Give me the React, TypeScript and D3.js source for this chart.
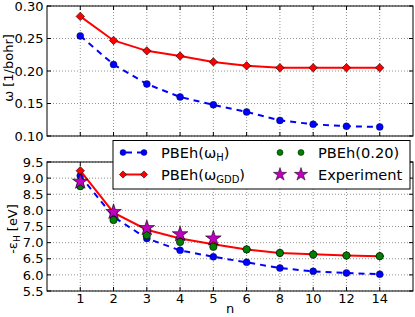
import React from "react";
import * as d3 from "d3";

const nLabels = ["1", "2", "3", "4", "5", "6", "8", "10", "12", "14"];
const omegaH = [0.254, 0.21, 0.18, 0.16, 0.148, 0.137, 0.124, 0.118, 0.115, 0.114];
const omegaGDD = [0.284, 0.247, 0.231, 0.223, 0.214, 0.208, 0.205, 0.205, 0.205, 0.205];
const epsH = [9.07, 7.8, 7.13, 6.76, 6.56, 6.39, 6.21, 6.11, 6.06, 6.02];
const epsGDD = [9.23, 7.93, 7.4, 7.13, 6.95, 6.79, 6.68, 6.64, 6.6, 6.58];
const eps020 = [8.75, 7.7, 7.23, 7.02, 6.87, 6.79, 6.68, 6.63, 6.6, 6.58];
const epsExp = [8.89, 7.95, 7.45, 7.26, 7.13];
const topTicks = [0.1, 0.15, 0.2, 0.25, 0.3];
const bottomTicks = [5.5, 6.0, 6.5, 7.0, 7.5, 8.0, 8.5, 9.0, 9.5];

const FONT = "DejaVu Sans";
const FS = 13;
const LFS = 14.6;
const L = 47, R = 413;
const TOP = { y0: 6, y1: 136 };
const BOT = { y0: 162, y1: 291 };

const x = d3.scalePoint<string>().domain(nLabels).range([L, R]).padding(1);
const yTop = d3.scaleLinear().domain([0.1, 0.3]).range([TOP.y1, TOP.y0]);
const yBot = d3.scaleLinear().domain([5.5, 9.5]).range([BOT.y1, BOT.y0]);

const diamond = (cx: number, cy: number, r: number) =>
  `M${cx},${cy - r}L${cx + r},${cy}L${cx},${cy + r}L${cx - r},${cy}Z`;
const starPath = d3.symbol().type(d3.symbolStar).size(75)();

function Panel({ y, ticks, y0, y1, digits }: { y: d3.ScaleLinear<number, number>; ticks: number[]; y0: number; y1: number; digits: number }) {
  return (
    <g>
      {nLabels.map((n) => (
        <line key={"gx" + n} x1={x(n)} x2={x(n)} y1={y0} y2={y1} stroke="#777" strokeWidth={0.8} strokeDasharray="1,2" />
      ))}
      {ticks.map((t) => (
        <line key={"gy" + t} x1={L} x2={R} y1={y(t)} y2={y(t)} stroke="#777" strokeWidth={0.8} strokeDasharray="1,2" />
      ))}
      {nLabels.map((n) => (
        <g key={"tx" + n}>
          <line x1={x(n)} x2={x(n)} y1={y1} y2={y1 - 4} stroke="#000" />
          <line x1={x(n)} x2={x(n)} y1={y0} y2={y0 + 4} stroke="#000" />
        </g>
      ))}
      {ticks.map((t) => (
        <g key={"ty" + t}>
          <line x1={L} x2={L + 4} y1={y(t)} y2={y(t)} stroke="#000" />
          <line x1={R} x2={R - 4} y1={y(t)} y2={y(t)} stroke="#000" />
          <text x={L - 3.5} y={y(t)} dy="0.36em" textAnchor="end" fontSize={FS} fontFamily={FONT}>
            {t.toFixed(digits)}
          </text>
        </g>
      ))}
      <rect x={L} y={y0} width={R - L} height={y1 - y0} fill="none" stroke="#000" strokeWidth={1} />
    </g>
  );
}

export default function App() {
  const lineTop = (vals: number[]) =>
    d3.line<number>().x((_, i) => x(nLabels[i])!).y((v) => yTop(v))(vals)!;
  const lineBot = (vals: number[]) =>
    d3.line<number>().x((_, i) => x(nLabels[i])!).y((v) => yBot(v))(vals)!;

  return (
    <svg width={415} height={317} style={{ position: "absolute", left: 0, top: 0 }} fontFamily={FONT}>
      <rect width={415} height={317} fill="#fff" />
      {/* Top panel */}
      <Panel y={yTop} ticks={topTicks} y0={TOP.y0} y1={TOP.y1} digits={2} />
      <path d={lineTop(omegaH)} fill="none" stroke="#0000ff" strokeWidth={2} strokeDasharray="6,5" />
      {omegaH.map((v, i) => (
        <circle key={"oh" + i} cx={x(nLabels[i])} cy={yTop(v)} r={3.5} fill="#0000ff" stroke="#000" strokeWidth={0.4} />
      ))}
      <path d={lineTop(omegaGDD)} fill="none" stroke="#ff0000" strokeWidth={2} />
      {omegaGDD.map((v, i) => (
        <path key={"og" + i} d={diamond(x(nLabels[i])!, yTop(v), 4.2)} fill="#ff0000" stroke="#000" strokeWidth={0.6} />
      ))}
      <text transform={`translate(12.5,68) rotate(-90)`} textAnchor="middle" fontSize={FS}>
        ω [1/bohr]
      </text>

      {/* Bottom panel */}
      <Panel y={yBot} ticks={bottomTicks} y0={BOT.y0} y1={BOT.y1} digits={1} />
      <path d={lineBot(epsH)} fill="none" stroke="#0000ff" strokeWidth={2} strokeDasharray="6,5" />
      {epsH.map((v, i) => (
        <circle key={"eh" + i} cx={x(nLabels[i])} cy={yBot(v)} r={3.5} fill="#0000ff" stroke="#000" strokeWidth={0.4} />
      ))}
      <path d={lineBot(epsGDD)} fill="none" stroke="#ff0000" strokeWidth={2} />
      {epsGDD.map((v, i) => (
        <path key={"eg" + i} d={diamond(x(nLabels[i])!, yBot(v), 4.2)} fill="#ff0000" stroke="#000" strokeWidth={0.6} />
      ))}
      {eps020.map((v, i) => (
        <circle key={"e2" + i} cx={x(nLabels[i])} cy={yBot(v)} r={3.7} fill="#007f00" stroke="#000" strokeWidth={0.6} />
      ))}
      {epsExp.map((v, i) => (
        <path key={"ex" + i} d={starPath} transform={`translate(${x(nLabels[i])},${yBot(v)})`} fill="#bf00bf" stroke="#000" strokeWidth={0.6} />
      ))}
      {nLabels.map((n) => (
        <text key={"xl" + n} x={x(n)} y={303} textAnchor="middle" fontSize={FS}>
          {n}
        </text>
      ))}
      <text x={(L + R) / 2} y={313} textAnchor="middle" fontSize={FS}>n</text>
      <text transform={`translate(17,229) rotate(-90)`} textAnchor="middle" fontSize={FS}>
        -ε<tspan fontSize={9} dy={2.5}>H</tspan><tspan dy={-2.5}> [eV]</tspan>
      </text>

      {/* Legend */}
      <g>
        <rect x={113} y={140.5} width={297} height={48.5} fill="#fff" stroke="#000" strokeWidth={1} />
        <line x1={123} x2={144} y1={152.5} y2={152.5} stroke="#0000ff" strokeWidth={2} strokeDasharray="6,5" strokeDashoffset={-3} />
        <circle cx={123} cy={152.5} r={3} fill="#0000ff" stroke="#000" strokeWidth={0.4} />
        <circle cx={144} cy={152.5} r={3} fill="#0000ff" stroke="#000" strokeWidth={0.4} />
        <text x={161} y={152.5} dy="0.36em" fontSize={LFS}>
          PBEh(ω<tspan fontSize={10} dy={3}>H</tspan><tspan dy={-3}>)</tspan>
        </text>
        <line x1={123} x2={144} y1={174.5} y2={174.5} stroke="#ff0000" strokeWidth={2} />
        <path d={diamond(123, 174.5, 3.6)} fill="#ff0000" stroke="#000" strokeWidth={0.6} />
        <path d={diamond(144, 174.5, 3.6)} fill="#ff0000" stroke="#000" strokeWidth={0.6} />
        <text x={161} y={174.5} dy="0.36em" fontSize={LFS}>
          PBEh(ω<tspan fontSize={10} dy={3}>GDD</tspan><tspan dy={-3}>)</tspan>
        </text>
        <circle cx={280} cy={152.5} r={3} fill="#007f00" stroke="#000" strokeWidth={0.5} />
        <circle cx={301} cy={152.5} r={3} fill="#007f00" stroke="#000" strokeWidth={0.5} />
        <text x={318} y={152.5} dy="0.36em" fontSize={LFS}>PBEh(0.20)</text>
        <path d={starPath} transform="translate(280,174.5) scale(0.85)" fill="#bf00bf" stroke="#000" strokeWidth={0.6} />
        <path d={starPath} transform="translate(301,174.5) scale(0.85)" fill="#bf00bf" stroke="#000" strokeWidth={0.6} />
        <text x={318} y={174.5} dy="0.36em" fontSize={LFS}>Experiment</text>
      </g>
    </svg>
  );
}
